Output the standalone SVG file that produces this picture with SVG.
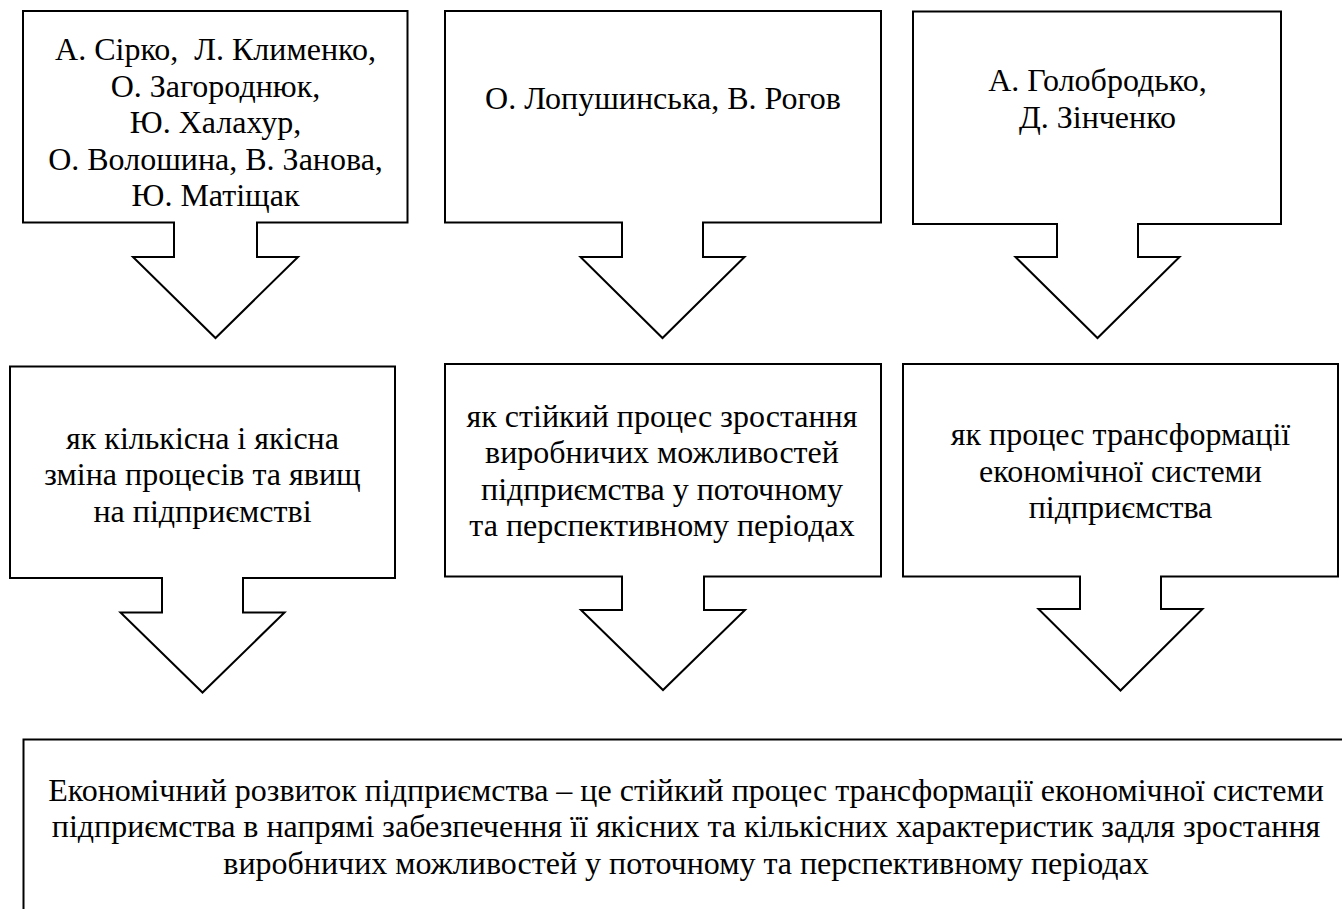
<svg xmlns="http://www.w3.org/2000/svg" width="1342" height="909" viewBox="0 0 1342 909" font-family="'Liberation Serif', 'Times New Roman', serif" font-size="32">
<defs>
<style>
.shape{fill:#ffffff;stroke:#000000;stroke-width:2}
</style>
</defs>
<rect x="0" y="0" width="1342" height="909" fill="#ffffff"/>
<g id="connectors"/>
<g id="node-authors-1" text-anchor="middle">
<path class="shape" d="M23,11 H407.5 V222.5 H257 V257 H298 L215.5,338 L133,257 H174 V222.5 H23 Z"/>
<text x="215.5" y="60" xml:space="preserve">А. Сірко,  Л. Клименко,</text>
<text x="215.5" y="96.5">О. Загороднюк,</text>
<text x="215.5" y="133">Ю. Халахур,</text>
<text x="215.5" y="169.5">О. Волошина, В. Занова,</text>
<text x="215.5" y="206">Ю. Матіщак</text>
</g>
<g id="node-authors-2" text-anchor="middle">
<path class="shape" d="M445,11 H881 V222.5 H703 V257 H744.5 L662.5,338 L580.5,257 H622 V222.5 H445 Z"/>
<text x="663" y="108.5">О. Лопушинська, В. Рогов</text>
</g>
<g id="node-authors-3" text-anchor="middle">
<path class="shape" d="M913,11.5 H1281 V224 H1138 V257 H1179.5 L1097.5,338 L1015.5,257 H1057 V224 H913 Z"/>
<text x="1097.5" y="91">А. Голобродько,</text>
<text x="1097.5" y="128">Д. Зінченко</text>
</g>
<g id="node-def-1" text-anchor="middle">
<path class="shape" d="M10,366.5 H395 V578 H243 V612.5 H284.5 L202.5,692.5 L120.5,612.5 H162 V578 H10 Z"/>
<text x="202.5" y="448.5">як кількісна і якісна</text>
<text x="202.5" y="485">зміна процесів та явищ</text>
<text x="202.5" y="521.5">на підприємстві</text>
</g>
<g id="node-def-2" text-anchor="middle">
<path class="shape" d="M445,364 H881 V576.5 H704 V610 H745 L663,690 L581,610 H622 V576.5 H445 Z"/>
<text x="662" y="426.5">як стійкий процес зростання</text>
<text x="662" y="463">виробничих можливостей</text>
<text x="662" y="499.5">підприємства у поточному</text>
<text x="662" y="536">та перспективному періодах</text>
</g>
<g id="node-def-3" text-anchor="middle">
<path class="shape" d="M903,364 H1338 V576.5 H1161 V609 H1202.5 L1120.5,690.5 L1038.5,609 H1080 V576.5 H903 Z"/>
<text x="1120.5" y="445">як процес трансформації</text>
<text x="1120.5" y="481.5">економічної системи</text>
<text x="1120.5" y="518">підприємства</text>
</g>
<g id="node-summary" text-anchor="middle">
<rect class="shape" x="23.5" y="739.5" width="1330" height="200" stroke-width="2.5"/>
<text x="686" y="800.5">Економічний розвиток підприємства – це стійкий процес трансформації економічної системи</text>
<text x="686" y="837">підприємства в напрямі забезпечення її якісних та кількісних характеристик задля зростання</text>
<text x="686" y="873.5">виробничих можливостей у поточному та перспективному періодах</text>
</g>
</svg>
